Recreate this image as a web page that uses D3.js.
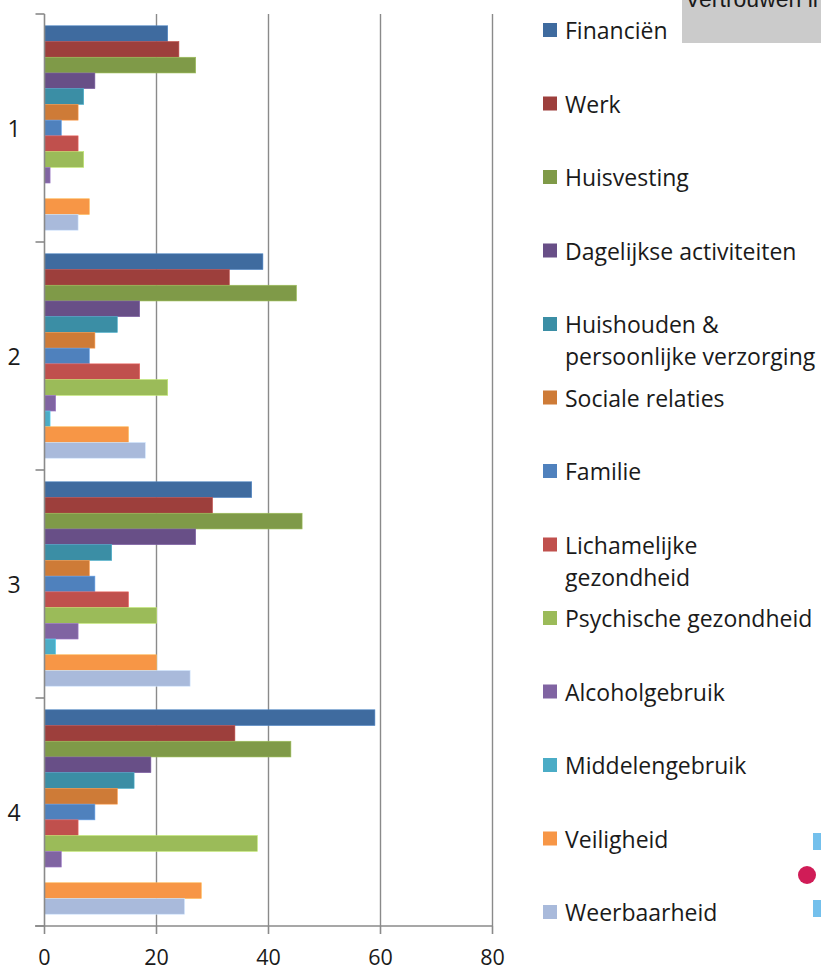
<!DOCTYPE html>
<html>
<head>
<meta charset="utf-8">
<script src="https://cdn.jsdelivr.net/npm/d3@7/dist/d3.min.js"></script>
<style>
  html, body { margin: 0; padding: 0; background: #fff; }
  svg { display: block; }
  text { font-family: "Open Sans", "Lato", sans-serif; fill: #1a1a1a; }
</style>
</head>
<body>
<svg id="chart" width="821" height="971"></svg>
<script>
// ---- data ----
const categories = ["1", "2", "3", "4"];
const xTicks = [0, 20, 40, 60, 80];
const seriesNames = [
  "Financiën", "Werk", "Huisvesting", "Dagelijkse activiteiten",
  "Huishouden & persoonlijke verzorging", "Sociale relaties", "Familie",
  "Lichamelijke gezondheid", "Psychische gezondheid", "Alcoholgebruik",
  "Middelengebruik", "Veiligheid", "Weerbaarheid"
];
const legendLines = [
  ["Financiën"], ["Werk"], ["Huisvesting"], ["Dagelijkse activiteiten"],
  ["Huishouden &", "persoonlijke verzorging"], ["Sociale relaties"], ["Familie"],
  ["Lichamelijke", "gezondheid"], ["Psychische gezondheid"], ["Alcoholgebruik"],
  ["Middelengebruik"], ["Veiligheid"], ["Weerbaarheid"]
];
const financien     = [22, 39, 37, 59];
const werk          = [24, 33, 30, 34];
const huisvesting   = [27, 45, 46, 44];
const dagelijkse    = [9, 17, 27, 19];
const huishouden    = [7, 13, 12, 16];
const sociale       = [6, 9, 8, 13];
const familie       = [3, 8, 9, 9];
const lichamelijke  = [6, 17, 15, 6];
const psychische    = [7, 22, 20, 38];
const alcohol       = [1, 2, 6, 3];
const middelen      = [0, 1, 2, 0];
const veiligheid    = [8, 15, 20, 28];
const weerbaarheid  = [6, 18, 26, 25];
const seriesValues = [financien, werk, huisvesting, dagelijkse, huishouden, sociale,
  familie, lichamelijke, psychische, alcohol, middelen, veiligheid, weerbaarheid];
const seriesColors = ["#3F6B9F", "#9D3F3C", "#7F9A48", "#684F87", "#3B8EA5", "#CE7B37",
  "#4F81BD", "#C0504D", "#9BBB59", "#8064A2", "#4BACC6", "#F79646", "#A9BADB"];

// ---- chart ----
const svg = d3.select("#chart");
const x = d3.scaleLinear().domain([0, 80]).range([44.5, 492.5]);
const y = d3.scaleBand().domain(categories).range([14, 926]);
const yInner = d3.scaleBand().domain(seriesNames).range([0, y.bandwidth()])
  .paddingInner(0).paddingOuter(0.75);
const axisColor = "#8A8A8A";

// gridlines
svg.append("g").selectAll("line").data(xTicks.filter(t => t > 0)).join("line")
  .attr("x1", d => x(d)).attr("x2", d => x(d))
  .attr("y1", 14).attr("y2", 926)
  .attr("stroke", axisColor).attr("stroke-width", 1.4);

// bars
const data = [];
categories.forEach((c, ci) => {
  seriesNames.forEach((s, si) => data.push({ c, s, si, v: seriesValues[si][ci] }));
});
svg.append("g").selectAll("rect").data(data.filter(d => d.v > 0)).join("rect")
  .attr("x", x(0))
  .attr("y", d => y(d.c) + yInner(d.s))
  .attr("width", d => x(d.v) - x(0))
  .attr("height", yInner.bandwidth())
  .attr("fill", d => seriesColors[d.si])
  .attr("stroke", d => d3.color(seriesColors[d.si]).brighter(0.6))
  .attr("stroke-width", 0.6);

// y axis
const ya = svg.append("g").attr("transform", `translate(${x(0)},0)`);
ya.append("line").attr("x1", 0).attr("x2", 0).attr("y1", 14).attr("y2", 926)
  .attr("stroke", axisColor).attr("stroke-width", 1.6);
const bounds = categories.map(c => y(c)).concat([y.range()[1]]);
ya.selectAll("line.tk").data(bounds).join("line").attr("class", "tk")
  .attr("x1", -9).attr("x2", 0).attr("y1", d => d).attr("y2", d => d)
  .attr("stroke", axisColor).attr("stroke-width", 1.6);
ya.selectAll("text.cat").data(categories).join("text").attr("class", "cat")
  .attr("x", -30.5).attr("y", d => y(d) + y.bandwidth() / 2)
  .attr("dominant-baseline", "central").attr("text-anchor", "middle")
  .style("font-size", "23px").text(d => d);

// x axis
const xa = svg.append("g").attr("transform", `translate(0,926)`);
xa.append("line").attr("x1", 35).attr("x2", x(80)).attr("y1", 0).attr("y2", 0)
  .attr("stroke", axisColor).attr("stroke-width", 1.6);
xa.selectAll("line.tk").data(xTicks).join("line").attr("class", "tk")
  .attr("x1", d => x(d)).attr("x2", d => x(d)).attr("y1", 0).attr("y2", 8)
  .attr("stroke", axisColor).attr("stroke-width", 1.6);
xa.selectAll("text").data(xTicks).join("text")
  .attr("x", d => x(d)).attr("y", 39)
  .attr("text-anchor", "middle")
  .style("font-size", "21.5px").text(d => d);

// legend
const lg = svg.append("g");
const legendTop = 30, legendStep = 73.5;
seriesNames.forEach((s, i) => {
  const cy = legendTop + legendStep * i;
  lg.append("rect").attr("x", 543).attr("y", cy - 7).attr("width", 14).attr("height", 14)
    .attr("fill", seriesColors[i]);
  legendLines[i].forEach((ln, li) => {
    lg.append("text").attr("x", 565).attr("y", cy + li * 32)
      .attr("dominant-baseline", "central")
      .style("font-size", "23px").text(ln);
  });
});

// top-right grey box (cut off)
svg.append("defs").append("clipPath").attr("id", "boxclip")
  .append("rect").attr("x", 682).attr("y", 0).attr("width", 139).attr("height", 43);
const box = svg.append("g").attr("clip-path", "url(#boxclip)");
box.append("rect").attr("x", 682).attr("y", 0).attr("width", 139).attr("height", 43)
  .attr("fill", "#CBCBCB");
box.append("text").attr("x", 685).attr("y", 7)
  .style("font-family", "'Liberation Sans', Arial, sans-serif")
  .style("font-size", "23px").style("fill", "#1a1a1a").text("Vertrouwen in");

// decorative marks at right edge
svg.append("rect").attr("x", 813).attr("y", 833).attr("width", 8).attr("height", 17).attr("fill", "#74C0EC");
svg.append("rect").attr("x", 813).attr("y", 900).attr("width", 8).attr("height", 17).attr("fill", "#74C0EC");
svg.append("circle").attr("cx", 807).attr("cy", 875).attr("r", 9).attr("fill", "#D01C57");
</script>
</body>
</html>
